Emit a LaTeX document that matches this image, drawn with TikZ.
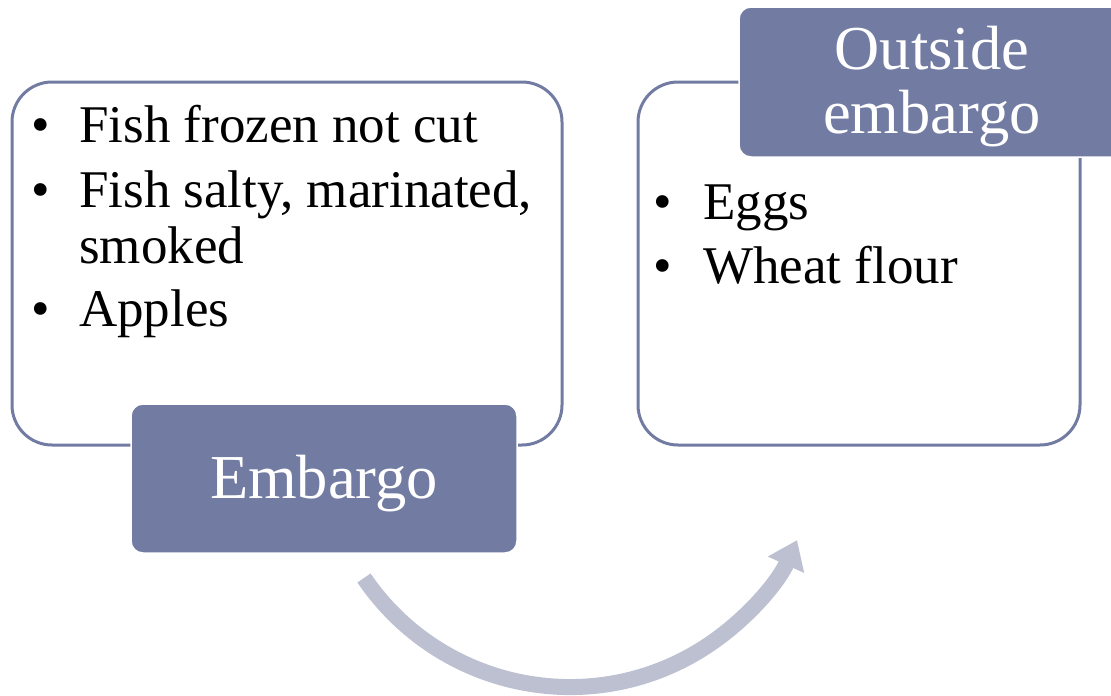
\documentclass[tikz,border=0pt]{standalone}
\usepackage{fontspec}
\setmainfont{Liberation Serif}
\usetikzlibrary{arrows.meta}
\definecolor{boxblue}{RGB}{114,123,162}
\definecolor{arrowgray}{RGB}{188,192,208}
\tikzset{
  outerbox/.style={draw=boxblue, line width=3pt, fill=white, rounded corners=40pt, inner sep=0pt},
  labelbox/.style={draw=white, line width=1.5pt, fill=boxblue, rounded corners=12pt, inner sep=0pt},
  bodytext/.style={inner sep=0pt, font=\fontsize{53}{56}\selectfont, text=black},
  labeltext/.style={inner sep=0pt, font=\fontsize{62.5}{62}\selectfont, text=white},
  bigarrow/.style={draw=arrowgray, line width=16pt, -{Triangle[length=27pt,width=38pt]}}
}
\begin{document}
\begin{tikzpicture}[x=1pt,y=1pt]
\useasboundingbox (0,0) rectangle (1111,-696);
\clip (0,0) rectangle (1111,-696);
% outer boxes
\node[outerbox, minimum width=550pt, minimum height=363pt] (lbox) at (287,-263.5) {};
\node[outerbox, minimum width=442pt, minimum height=363pt] (rbox) at (859,-263.5) {};
% label boxes
\node[labelbox, minimum width=386pt, minimum height=149pt] (embargo) at (324,-478.5) {};
\node[labelbox, minimum width=386pt, minimum height=150pt] (outside) at (932,-82) {};
% label texts
\node[labeltext, anchor=base] (embtxt) at (324,-498) {Embargo};
\node[labeltext, anchor=base] (outtxta) at (932,-69) {Outside};
\node[labeltext, anchor=base] (outtxtb) at (932,-133) {embargo};
% left list
\node[bodytext, anchor=base] (lb1) at (41,-142) {•};
\node[bodytext, anchor=base west] (lt1) at (79,-142) {Fish frozen not cut};
\node[bodytext, anchor=base] (lb2) at (41,-207) {•};
\node[bodytext, anchor=base west] (lt2) at (79,-207) {Fish salty, marinated,};
\node[bodytext, anchor=base west] (lt2b) at (79,-263) {smoked};
\node[bodytext, anchor=base] (lb3) at (41,-326) {•};
\node[bodytext, anchor=base west] (lt3) at (79,-326) {Apples};
% right list
\node[bodytext, anchor=base] (rb1) at (663,-219) {•};
\node[bodytext, anchor=base west] (rt1) at (703,-219) {Eggs};
\node[bodytext, anchor=base] (rb2) at (663,-283) {•};
\node[bodytext, anchor=base west] (rt2) at (703,-283) {Wheat flour};
% curved arrow
\coordinate (arrstart) at (364,-578);
\draw[bigarrow] (arrstart) arc[start angle=214.2, end angle=335.8, radius=249pt];
\end{tikzpicture}
\end{document}
